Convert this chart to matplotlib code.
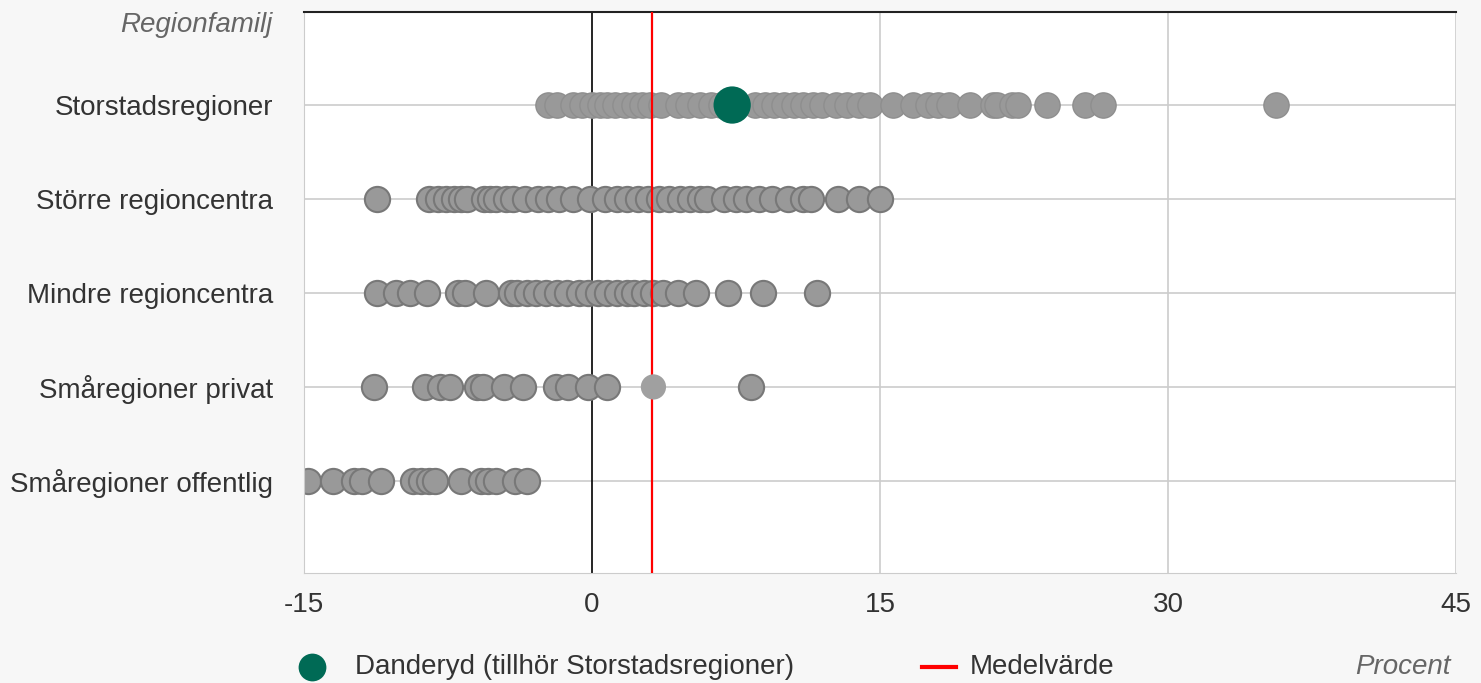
import numpy as np
import matplotlib
matplotlib.use("Agg")
import matplotlib.pyplot as plt
from matplotlib.lines import Line2D

plt.rcParams['font.family'] = ['Liberation Sans', 'DejaVu Sans']

# regionfamiljer, uppifrån och ned
families = ['Storstadsregioner', 'Större regioncentra', 'Mindre regioncentra',
            'Småregioner privat', 'Småregioner offentlig']

storstad = [-2.3, -1.8, -1.0, -0.5, 0.0, 0.4, 0.8, 1.2, 1.7, 2.2, 2.6, 3.0, 3.6,
            4.5, 5.0, 5.6, 6.2, 6.7, 8.5, 9.0, 9.5, 10.0, 10.5, 11.0, 11.5, 12.0,
            12.7, 13.3, 13.9, 14.5, 15.7, 16.7, 17.5, 18.0, 18.6, 19.7, 20.9,
            21.1, 21.9, 22.2, 23.7, 25.7, 26.6, 35.6]
storre = [-11.2, -8.5, -8.0, -7.6, -7.2, -6.8, -6.5, -5.6, -5.3, -5.0, -4.5, -4.1,
          -3.5, -2.8, -2.3, -1.7, -1.0, -0.1, 0.7, 1.3, 1.8, 2.4, 2.9, 3.5, 4.0,
          4.6, 5.1, 5.6, 6.0, 6.9, 7.5, 8.0, 8.7, 9.4, 10.2, 11.0, 11.4, 12.8,
          13.9, 15.0]
mindre = [-11.2, -10.2, -9.5, -8.6, -7.0, -6.6, -5.5, -4.2, -3.9, -3.4, -2.9, -2.4,
          -1.8, -1.3, -0.7, -0.2, 0.3, 0.8, 1.3, 1.8, 2.2, 2.7, 3.2, 3.7, 4.5,
          5.4, 7.1, 8.9, 11.7]
sma_privat = [-11.35, -8.7, -7.9, -7.4, -6.0, -5.7, -4.6, -3.6, -1.9, -1.25,
              -0.2, 0.8, 3.2, 8.3]
sma_offentlig = [-14.8, -13.5, -12.4, -12.0, -11.0, -9.3, -8.9, -8.5, -8.2, -6.8,
                 -5.8, -5.4, -5.0, -4.0, -3.4]

danderyd = 7.3
danderyd_family = 'Storstadsregioner'
medelvarde = 3.1

x_ticks = [-15, 0, 15, 30, 45]

GRAY = '#999999'
EDGE = '#787878'
GREEN = '#006a55'
TXT = '#333333'
FS = 20

fig = plt.figure(figsize=(14.81, 6.83), dpi=100, facecolor='#f7f7f7')
ax = fig.add_axes([304 / 1481, 1 - 573 / 683, 1152 / 1481, 561 / 683])
ax.set_facecolor('white')

# rutnät
for y in range(len(families)):
    ax.axhline(y, color='#cccccc', lw=1.2, zorder=0)
for x in x_ticks:
    ax.axvline(x, color='black' if x == 0 else '#cccccc', lw=1.2, zorder=0.5)
ax.axvline(medelvarde, color='red', lw=1.6, zorder=3)

rows = [storstad, storre, mindre, sma_privat, sma_offentlig]
for i, vals in enumerate(rows):
    vals = np.array(vals)
    if i == 0:
        ax.scatter(vals, np.full(len(vals), i), s=330, c=GRAY, edgecolors='#8e8e8e',
                   linewidths=1.0, zorder=2)
    elif i == 3:
        # punkten vid medelvärdet ritas utan kant
        near = np.abs(vals - medelvarde) < 0.3
        ax.scatter(vals[~near], np.full((~near).sum(), i), s=330, c=GRAY,
                   edgecolors=EDGE, linewidths=1.5, zorder=2)
        ax.scatter(vals[near], np.full(near.sum(), i), s=330, c='#a0a0a0',
                   edgecolors='none', zorder=4)
    else:
        ax.scatter(vals, np.full(len(vals), i), s=330, c=GRAY, edgecolors=EDGE,
                   linewidths=1.5, zorder=2)

ax.scatter([danderyd], [families.index(danderyd_family)], s=720, c=GREEN,
           edgecolors='none', zorder=5)

ax.set_xlim(-15, 45)
ax.set_ylim(len(families) - 1 + 0.98, -0.99)
ax.set_xticks(x_ticks)
ax.set_xticklabels([str(t) for t in x_ticks])
ax.set_yticks(range(len(families)))
ax.set_yticklabels(families)
ax.tick_params(axis='y', length=0, pad=22, labelsize=FS, labelcolor=TXT)
ax.tick_params(axis='x', length=0, pad=14, labelsize=FS, labelcolor=TXT)

ax.spines['top'].set_color('#222222')
ax.spines['top'].set_linewidth(1.5)
ax.spines['left'].set_color('#cccccc')
ax.spines['bottom'].set_color('#cccccc')
ax.spines['right'].set_visible(False)

fig.text(272 / 1481, 1 - 25 / 683, 'Regionfamilj', ha='right', va='center',
         style='italic', fontsize=FS, color='#666666')

# teckenförklaring
ly = 1 - 667 / 683
fig.add_artist(Line2D([312 / 1481], [ly], marker='o', markersize=20, color=GREEN,
                      markeredgecolor='none', transform=fig.transFigure))
fig.text(355 / 1481, ly, 'Danderyd (tillhör Storstadsregioner)', ha='left', va='center',
         fontsize=FS, color=TXT)
fig.add_artist(Line2D([922 / 1481, 956 / 1481], [ly, ly], color='red', lw=3,
                      transform=fig.transFigure))
fig.text(970 / 1481, ly, 'Medelvärde', ha='left', va='center', fontsize=FS, color=TXT)
fig.text(1451 / 1481, ly, 'Procent', ha='right', va='center', style='italic',
         fontsize=FS, color='#666666')

plt.savefig('out.png', dpi=100, facecolor=fig.get_facecolor())
